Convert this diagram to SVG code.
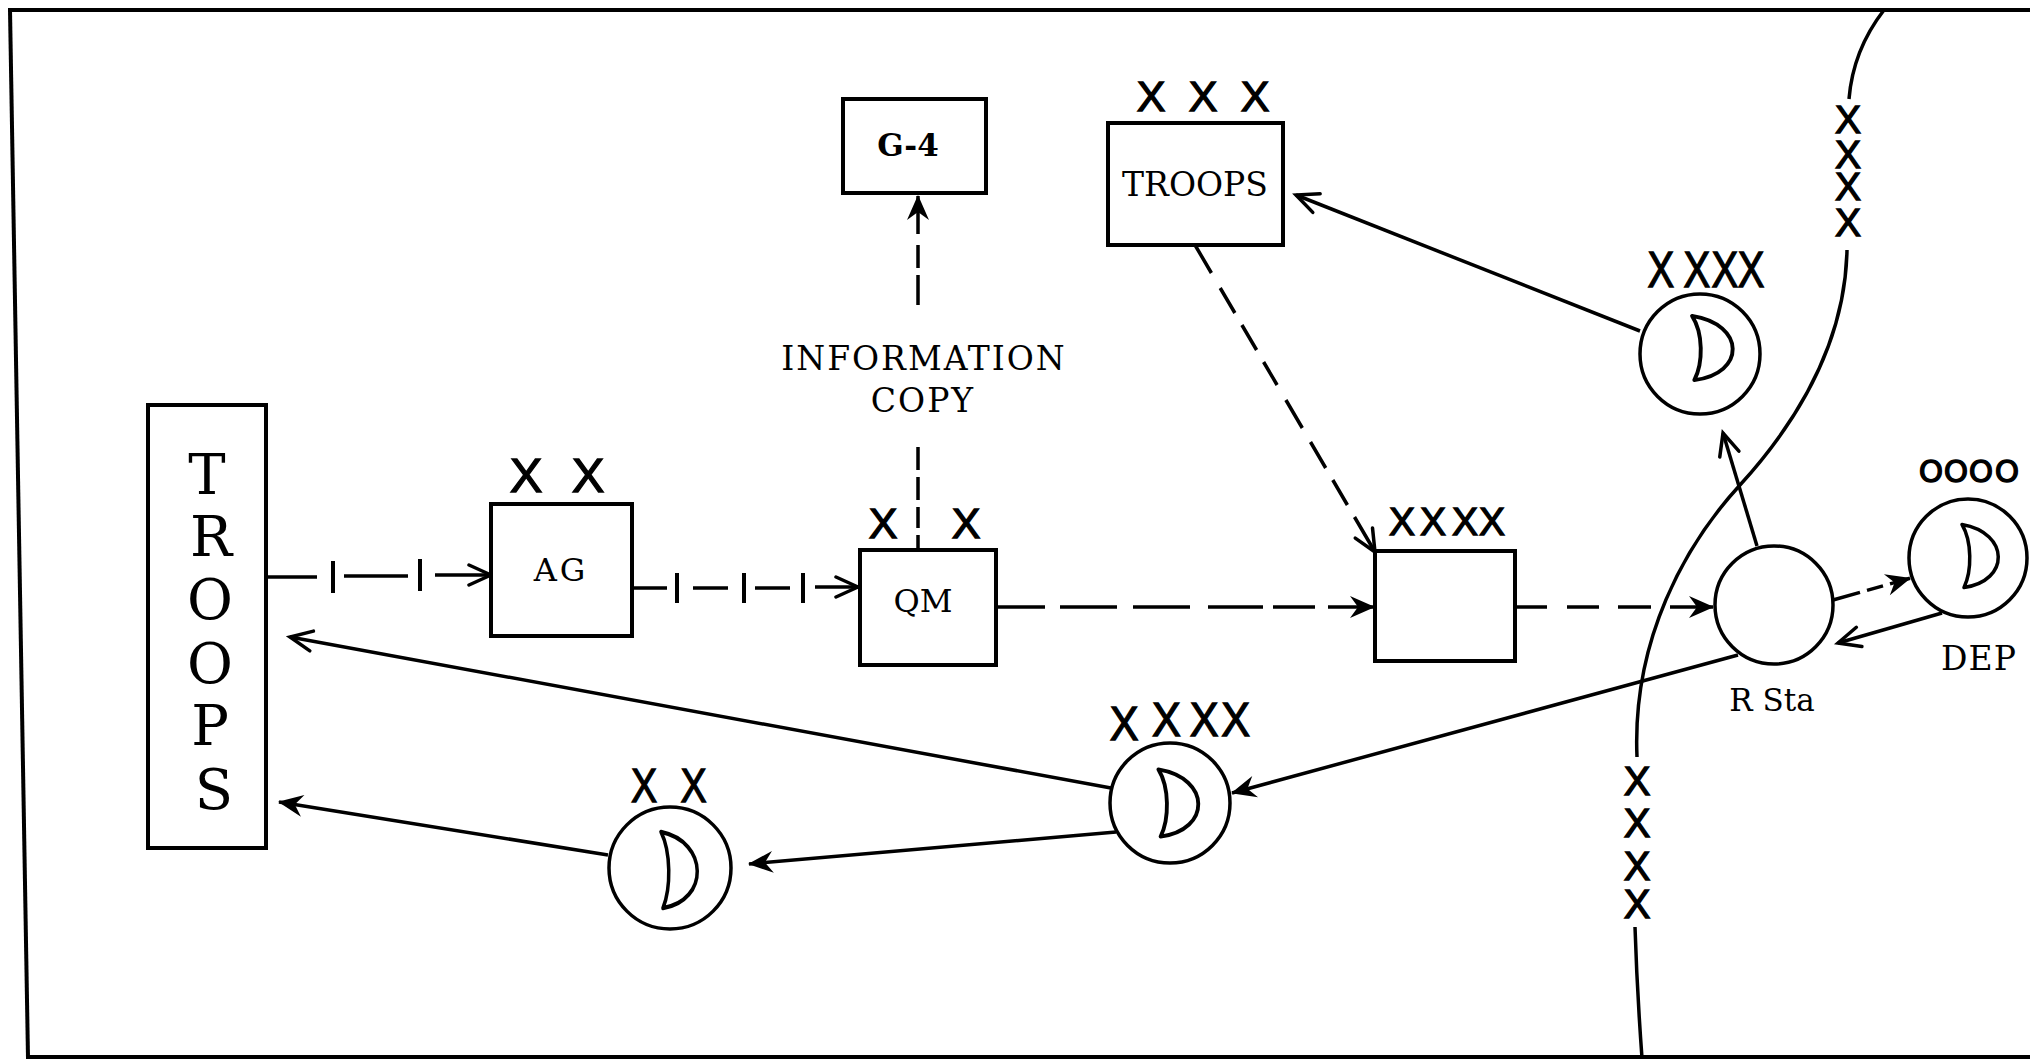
<svg xmlns="http://www.w3.org/2000/svg" xmlns:xlink="http://www.w3.org/1999/xlink" width="2030" height="1060" viewBox="0 0 2030 1060">
<style>
.box{fill:#fff;stroke:#000;stroke-width:4}
.circ{fill:#fff;stroke:#000;stroke-width:3.5}
.ln{fill:none;stroke:#000;stroke-width:3.5}
.tick{fill:none;stroke:#000;stroke-width:4}
.frame{fill:none;stroke:#000;stroke-width:4}
.serif{font-family:"DejaVu Serif","Liberation Serif",serif;fill:#000;text-anchor:middle}
.ech{font-family:"Liberation Sans",Arial,sans-serif;fill:#000;stroke:#000;stroke-width:1.3;text-anchor:middle}
.moon{fill:#fff;stroke:#000;stroke-width:3.5;vector-effect:non-scaling-stroke;stroke-linejoin:round}
</style>
<defs>
<marker id="open" viewBox="-30 -16 34 32" refX="0" refY="0" markerWidth="34" markerHeight="32" markerUnits="userSpaceOnUse" orient="auto">
<path d="M-22,-10 L0,0 L-22,10" fill="none" stroke="#000" stroke-width="3.5" stroke-linecap="round"/>
</marker>
<marker id="barb" viewBox="-30 -16 34 32" refX="0" refY="0" markerWidth="34" markerHeight="32" markerUnits="userSpaceOnUse" orient="auto">
<path d="M1,0 L-24,-11 L-16,0 L-24,11 Z" fill="#000"/>
</marker>
<path id="crescent" d="M-16,-30 C32,-22 32,24 -14,30 C-6,14 -6,-14 -16,-30 Z"/>
</defs>
<rect width="2030" height="1060" fill="#fff"/>

<g id="frame">
<path class="frame" d="M8,10 L2030,10"/>
<path class="frame" d="M10,10 L28,1058"/>
<path class="frame" d="M26,1057 L2030,1057"/>
</g>

<g id="boundary">
<path class="ln" d="M1884,10 Q1853,50 1849,99"/>
<path class="ln" d="M1847,250 C1845,350 1790,430 1740,485 C1685,545 1632,640 1637,757"/>
<path class="ln" d="M1635,927 Q1637,990 1642,1058"/>
<text class="ech" font-size="39" x="1848 1848 1848 1848" y="133 168 200 236">XXXX</text>
<text class="ech" font-size="40" x="1637 1637 1637 1637" y="795 837 880 918">XXXX</text>
</g>

<g id="connectors">
<path class="ln" d="M266,577 L317,577 M344,576 L408,576 M435,575 L491,575" marker-end="url(#open)"/>
<path class="tick" d="M333,561 L333,593 M420,559 L420,591"/>
<path class="ln" d="M633,588 L667,588 M693,588 L728,588 M755,588 L790,588 M815,587 L858,587" marker-end="url(#open)"/>
<path class="tick" d="M677,573 L677,603 M744,573 L744,603 M803,573 L803,603"/>
<path class="ln" d="M918,550 L918,535 M918,528 L918,507 M918,500 L918,477 M918,470 L918,447"/>
<path class="ln" d="M918,305 L918,275 M918,268 L918,245 M918,234 L918,196" marker-end="url(#barb)"/>
<path class="ln" d="M996,607 L1045,607 M1060,607 L1117,607 M1133,607 L1190,607 M1208,607 L1263,607 M1273,607 L1315,607 M1328,607 L1374,607" marker-end="url(#barb)"/>
<path class="ln" d="M1195,245 L1211.4,273 M1220.2,288 L1234.9,313 M1241.9,325 L1256.6,350 M1263.6,362 L1277.1,385 M1285.9,400 L1302.3,428 M1310.5,442 L1325.7,468 M1332.8,480 L1347.4,505 M1354.5,517 L1375,552" marker-end="url(#open)"/>
<path class="ln" d="M1515,607 L1547,607 M1567,607 L1599,607 M1618,607 L1651,607 M1670,607 L1713,607" marker-end="url(#barb)"/>
<path class="ln" d="M1833,600 L1860,592.4 M1867,590.4 L1883,585.9 M1890,583.9 L1910,578.3" marker-end="url(#barb)"/>
<path class="ln" d="M1942,613 L1838,643" marker-end="url(#open)"/>
<path class="ln" d="M1757,546 L1723,433" marker-end="url(#open)"/>
<path class="ln" d="M1640,331 L1296,195" marker-end="url(#open)"/>
<path class="ln" d="M1738,655 L1232,793" marker-end="url(#barb)"/>
<path class="ln" d="M1111,788 L290,637" marker-end="url(#open)"/>
<path class="ln" d="M1116,832 L749,864" marker-end="url(#barb)"/>
<path class="ln" d="M608,855 L279,802" marker-end="url(#barb)"/>
</g>

<g id="troops-main">
<rect class="box" x="148" y="405" width="118" height="443"/>
<text class="serif" font-size="56" x="207 211 210 210 210 214" y="494 556 619 683 745 809">TROOPS</text>
</g>

<g id="ag">
<rect class="box" x="491" y="504" width="141" height="132"/>
<text class="serif" font-size="32" letter-spacing="3" x="561" y="581">AG</text>
<text class="ech" font-size="49" x="526 588" y="492 492">XX</text>
</g>

<g id="qm">
<rect class="box" x="860" y="550" width="136" height="115"/>
<text class="serif" font-size="32" x="923" y="612">QM</text>
<text class="ech" font-size="43" x="883 966" y="538 538">XX</text>
</g>

<g id="g4">
<rect class="box" x="843" y="99" width="143" height="94"/>
<text class="serif" font-size="31" font-weight="bold" x="908" y="156">G-4</text>
</g>

<g id="info-label">
<text class="serif" font-size="33" letter-spacing="2" x="924" y="370">INFORMATION</text>
<text class="serif" font-size="33" letter-spacing="2" x="923" y="412">COPY</text>
</g>

<g id="troops-xxx">
<rect class="box" x="1108" y="123" width="175" height="122"/>
<text class="serif" font-size="33" x="1195" y="196">TROOPS</text>
<text class="ech" font-size="43" x="1151 1203 1255" y="111 111 111">XXX</text>
</g>

<g id="xxxx-box">
<rect class="box" x="1375" y="551" width="140" height="110"/>
<text class="ech" font-size="39" x="1402 1433 1465 1492" y="535 535 535 535">XXXX</text>
</g>

<g id="rsta">
<circle class="circ" cx="1774" cy="605" r="59"/>
<text class="serif" font-size="31" x="1772" y="711">R Sta</text>
</g>

<g id="dep">
<circle class="circ" cx="1968" cy="558" r="59"/>
<use xlink:href="#crescent" class="moon" transform="translate(1978,556) scale(1,1.05)"/>
<text class="serif" font-size="33" letter-spacing="1" x="1979" y="670">DEP</text>
<text font-family="DejaVu Sans, sans-serif" text-anchor="middle" font-size="31" stroke="#000" stroke-width="1.3" x="1931 1956 1981 2007" y="482 482 482 482">OOOO</text>
</g>

<g id="supply-xxxx-upper">
<circle class="circ" cx="1700" cy="354" r="60"/>
<use xlink:href="#crescent" class="moon" transform="translate(1710,348) scale(1.12,1.07)"/>
<text class="ech" font-size="50" transform="scale(0.8,1)" x="2076 2121 2156 2189" y="287 287 287 287">XXXX</text>
</g>

<g id="supply-xxxx-lower">
<circle class="circ" cx="1170" cy="803" r="60"/>
<use xlink:href="#crescent" class="moon" transform="translate(1176,803) scale(1.1,1.12)"/>
<text class="ech" font-size="48" transform="scale(0.9,1)" x="1249 1296 1338 1373" y="740 736 736 736">XXXX</text>
</g>

<g id="supply-xx">
<circle class="circ" cx="670" cy="868" r="61"/>
<use xlink:href="#crescent" class="moon" transform="translate(677,870) scale(1,1.27)"/>
<text class="ech" font-size="49" transform="scale(0.8,1)" x="805 867" y="802 802">XX</text>
</g>
</svg>
